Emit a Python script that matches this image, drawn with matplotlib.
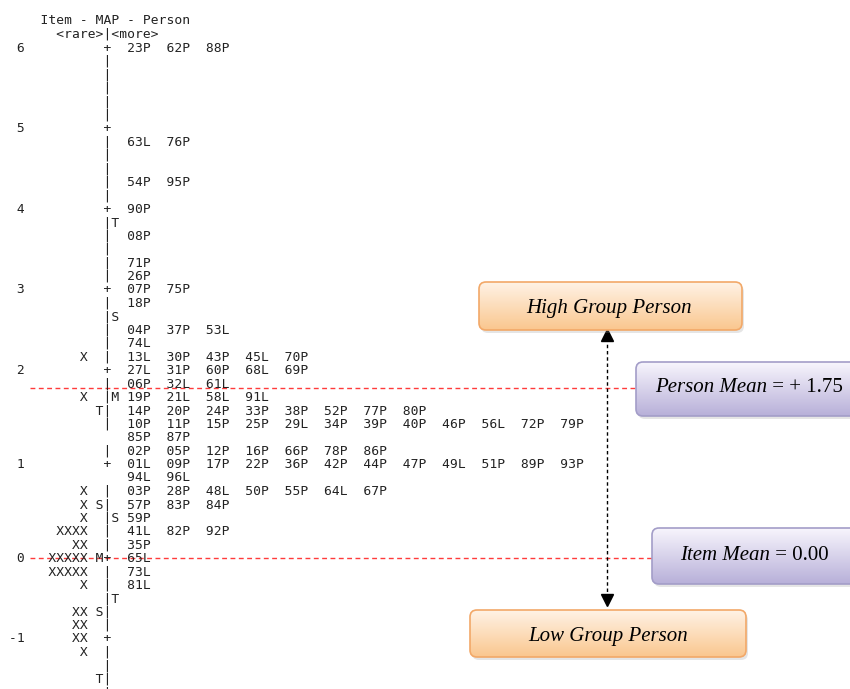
import numpy as np
import matplotlib.pyplot as plt
from matplotlib.patches import FancyBboxPatch

# header of the Winsteps item-person map
header = ["    Item - MAP - Person", "      <rare>|<more>"]

# one entry per printed row of the map, top to bottom
scale_labels = ["6", "", "", "", "", "",
                "5", "", "", "", "", "",
                "4", "", "", "", "", "",
                "3", "", "", "", "", "",
                "2", "", "", "", "", "", "",
                "1", "", "", "", "", "", "",
                "0", "", "", "", "", "",
                "-1", "", "", "", ""]
item_counts = [0, 0, 0, 0, 0, 0,
               0, 0, 0, 0, 0, 0,
               0, 0, 0, 0, 0, 0,
               0, 0, 0, 0, 0, 1,
               0, 0, 1, 0, 0, 0, 0,
               0, 0, 1, 1, 1, 4, 2,
               5, 5, 1, 0, 2, 2,
               2, 1, 0, 0, 0]
item_marks = ["", "", "", "", "", "",
              "", "", "", "", "", "",
              "", "", "", "", "", "",
              "", "", "", "", "", "",
              "", "", "", "T", "", "", "",
              "", "", "", "S", "", "", "",
              "M", "", "", "", "S", "",
              "", "", "", "T", ""]
axis_chars = ["+", "|", "|", "|", "|", "|",
              "+", "|", "|", "|", "|", "|",
              "+", "|", "|", "|", "|", "|",
              "+", "|", "|", "|", "|", "|",
              "+", "|", "|", "|", "|", "", "|",
              "+", "", "|", "|", "|", "|", "|",
              "+", "|", "|", "|", "|", "|",
              "+", "|", "|", "|", "|"]
person_marks = ["", "", "", "", "", "",
                "", "", "", "", "", "",
                "", "T", "", "", "", "",
                "", "", "S", "", "", "",
                "", "", "M", "", "", "", "",
                "", "", "", "", "S", "", "",
                "", "", "", "T", "", "",
                "", "", "", "", ""]
persons = ["23P 62P 88P", "", "", "", "", "",
           "", "63L 76P", "", "", "54P 95P", "",
           "90P", "", "08P", "", "71P", "26P",
           "07P 75P", "18P", "", "04P 37P 53L", "74L", "13L 30P 43P 45L 70P",
           "27L 31P 60P 68L 69P", "06P 32L 61L", "19P 21L 58L 91L",
           "14P 20P 24P 33P 38P 52P 77P 80P",
           "10P 11P 15P 25P 29L 34P 39P 40P 46P 56L 72P 79P",
           "85P 87P", "02P 05P 12P 16P 66P 78P 86P",
           "01L 09P 17P 22P 36P 42P 44P 47P 49L 51P 89P 93P",
           "94L 96L", "03P 28P 48L 50P 55P 64L 67P", "57P 83P 84P", "59P",
           "41L 82P 92P", "35P",
           "65L", "73L", "81L", "", "", "",
           "", "", "", "", ""]

person_mean = 1.75
item_mean = 0.00

fig = plt.figure(figsize=(8.5, 6.89), dpi=100)
ax = fig.add_axes([0, 0, 1, 1])
mono = dict(family="DejaVu Sans Mono", fontsize=9.4, color="#222222", va="center_baseline", ha="left")

x0 = 9.3
y_head = 19.5
y_first = 46.5
dy = 13.43

for i, h in enumerate(header):
    ax.text(x0, y_head + i * dy, h, **mono)

for i in range(len(scale_labels)):
    line = f"{scale_labels[i]:>2}" + f"{'X' * item_counts[i]:>8}" + " "
    line += (item_marks[i] or " ") + (axis_chars[i] or " ") + (person_marks[i] or " ") + " "
    line += "  ".join(persons[i].split())
    ax.text(x0, y_first + i * dy, line.rstrip(), **mono)

# logit of each real (non-continuation) row: 6 rows per logit
real_rows = np.array([i for i, a in enumerate(axis_chars) if a])
row_logits = 6 - np.arange(len(real_rows)) / 6.0
def logit_y(v):
    r = np.interp(v, row_logits[::-1], real_rows[::-1])
    return y_first - 0.5 + r * dy

yp = logit_y(person_mean)
yi = logit_y(item_mean) + 1.5
ax.plot([30, 636], [yp, yp], color="#ff3b3b", lw=1, ls=(0, (3.5, 2.5)), zorder=1)
ax.plot([30, 652], [yi, yi], color="#ff3b3b", lw=1, ls=(0, (3.5, 2.5)), zorder=1)


def gbox(xa, ya, xb, yb, top, bottom, edge):
    sh = FancyBboxPatch((xa + 2, ya + 3), xb - xa, yb - ya, boxstyle="round,pad=0,rounding_size=7",
                        fc="#999999", ec="none", alpha=0.25, zorder=2)
    ax.add_patch(sh)
    patch = FancyBboxPatch((xa, ya), xb - xa, yb - ya, boxstyle="round,pad=0,rounding_size=7",
                           fc="none", ec=edge, lw=1.2, zorder=4)
    ax.add_patch(patch)
    t = np.linspace(0, 1, 64)[:, None, None]
    img = (1 - t) * np.array(top)[None, None, :] + t * np.array(bottom)[None, None, :]
    img = np.repeat(img, 4, axis=1)
    im = ax.imshow(img, extent=(xa, xb, yb, ya), aspect="auto", zorder=3, interpolation="bilinear")
    im.set_clip_path(patch)


orange_top = (1.0, 0.95, 0.90)
orange_bot = (0.98, 0.78, 0.56)
purple_top = (0.97, 0.96, 0.99)
purple_bot = (0.72, 0.69, 0.85)

gbox(479, 282, 742, 330, orange_top, orange_bot, "#f2a868")
gbox(470, 610, 746, 657, orange_top, orange_bot, "#f2a868")
gbox(636, 362, 870, 416, purple_top, purple_bot, "#a39dc8")
gbox(652, 528, 870, 584, purple_top, purple_bot, "#a39dc8")

serif_it = dict(family="Liberation Serif", style="italic", fontsize=15, color="black", zorder=5)
serif = dict(family="Liberation Serif", fontsize=15, color="black", zorder=5)
ax.text(609, 308, "High Group Person", ha="center", va="center", **serif_it)
ax.text(608, 636, "Low Group Person", ha="center", va="center", **serif_it)
t1 = ax.text(655, 387, "Person Mean", ha="left", va="center", **serif_it)
ax.annotate(" = + 1.75", xy=(1, 0), xycoords=t1, ha="left", va="bottom", **serif)
t2 = ax.text(680, 555, "Item Mean", ha="left", va="center", **serif_it)
ax.annotate(" = 0.00", xy=(1, 0), xycoords=t2, ha="left", va="bottom", **serif)

# dashed double arrow between the groups
ax.plot([607, 607], [338, 597], color="black", lw=1, ls=(0, (2.5, 2)), zorder=1)
ax.plot([607], [335], marker="^", ms=8, color="black", zorder=1)
ax.plot([607], [600], marker="v", ms=8, color="black", zorder=1)

ax.set_xlim(0, 850)
ax.set_ylim(689, 0)
ax.axis("off")
fig.savefig("out.png", dpi=100, facecolor="white")
